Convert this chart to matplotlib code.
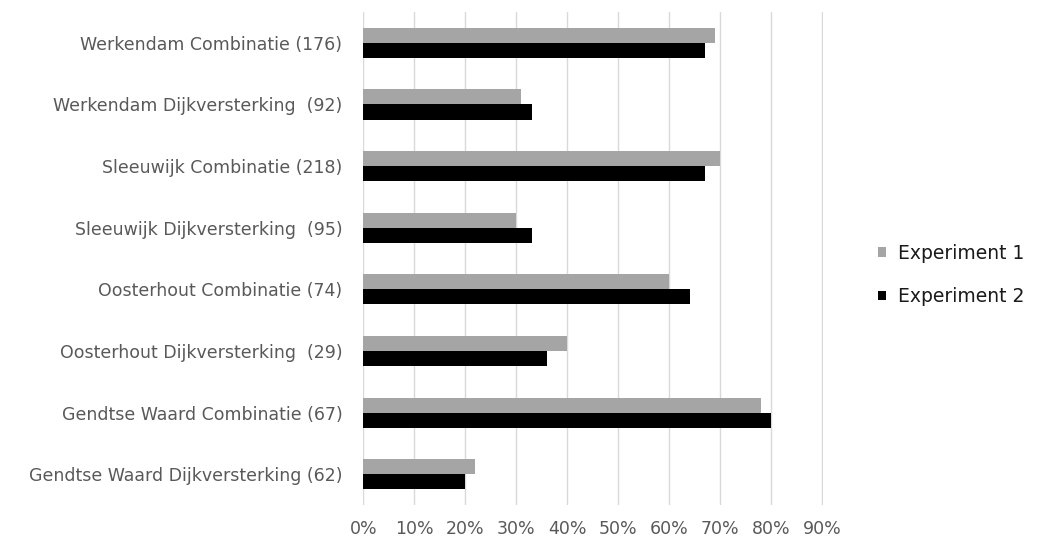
import numpy as np
import matplotlib.pyplot as plt
from matplotlib.ticker import PercentFormatter

# Categories (top to bottom) and shares per experiment
categories = [
    "Werkendam Combinatie (176)",
    "Werkendam Dijkversterking  (92)",
    "Sleeuwijk Combinatie (218)",
    "Sleeuwijk Dijkversterking  (95)",
    "Oosterhout Combinatie (74)",
    "Oosterhout Dijkversterking  (29)",
    "Gendtse Waard Combinatie (67)",
    "Gendtse Waard Dijkversterking (62)",
]
experiment_1 = [69, 31, 70, 30, 60, 40, 78, 22]
experiment_2 = [67, 33, 67, 33, 64, 36, 80, 20]

plt.rcParams["font.family"] = ["DejaVu Sans"]

fig = plt.figure(figsize=(10.38, 5.42), dpi=100)
ax = fig.add_axes([0.350, 0.068, 0.4425, 0.910])

y = np.arange(len(categories))
h = 0.245
ax.barh(y - h / 2, experiment_1, height=h, color="#A5A5A5", label="Experiment 1", zorder=3)
ax.barh(y + h / 2, experiment_2, height=h, color="#000000", label="Experiment 2", zorder=3)

ax.set_ylim(len(categories) - 0.5, -0.5)
ax.set_xlim(0, 90.1)
ax.set_xticks(np.arange(0, 91, 10))
ax.xaxis.set_major_formatter(PercentFormatter(decimals=0))
ax.set_yticks(y)
ax.set_yticklabels(categories)

ax.grid(axis="x", color="#D9D9D9", linewidth=1, zorder=0)
for s in ax.spines.values():
    s.set_visible(False)
ax.tick_params(length=0, colors="#595959", labelsize=12.5)
ax.tick_params(axis="y", pad=15)
ax.tick_params(axis="x", pad=11)

leg = fig.legend(loc="center left", bbox_to_anchor=(878 / 1038, 1 - 275 / 542),
                 bbox_transform=fig.transFigure, frameon=False,
                 fontsize=13.5, handlelength=0.4, handleheight=0.4,
                 handletextpad=0.65, labelspacing=1.3, borderpad=0, borderaxespad=0)
for t in leg.get_texts():
    t.set_color("#1a1a1a")

fig.savefig("out.png", dpi=100)
